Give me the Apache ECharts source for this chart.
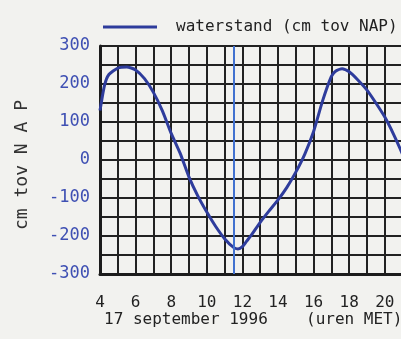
<!DOCTYPE html>
<html>
<head>
<meta charset="utf-8">
<script src="https://cdn.jsdelivr.net/npm/echarts@6/dist/echarts.min.js"></script>
<style>
  html, body { margin: 0; padding: 0; background: #f2f2ef; }
  #main { width: 401px; height: 339px; }
</style>
</head>
<body>
<div id="main"></div>
<script>
// uren (MET) op 17 september 1996
const hours = [4, 4.25, 4.5, 5, 5.5, 6, 6.5, 7, 7.5, 8, 8.5, 9, 9.5, 10, 10.5, 11, 11.5, 11.75, 12, 12.25, 12.5, 13, 13.5, 14, 14.5, 15, 15.5, 16, 16.5, 17, 17.25, 17.6, 18, 18.5, 19, 19.5, 20, 20.5, 21, 21.5, 22];
// waterstand in cm t.o.v. NAP
const waterstand = [130, 196, 225, 242, 245, 237, 214, 178, 130, 70, 18, -45, -95, -137, -175, -207, -230, -234, -228, -213, -198, -164, -134, -105, -72, -32, 15, 75, 155, 220, 234, 240, 232, 210, 184, 150, 113, 67, 15, -40, -95];
const markerHour = 11.5;
const yTicks = [-300, -200, -100, 0, 100, 200, 300];

const font = 'DejaVu Sans Mono';

const chart = echarts.init(document.getElementById('main'), null, { renderer: 'canvas' });

const option = {
  backgroundColor: '#f2f2ef',
  animation: false,
  legend: {
    left: 98,
    top: 14,
    icon: 'rect',
    itemWidth: 54,
    itemHeight: 3,
    itemGap: 0,
    textStyle: {
      fontFamily: font,
      fontSize: 16,
      color: '#222',
      padding: [0, 0, 0, 14]
    },
    data: ['waterstand (cm tov NAP)']
  },
  grid: {
    left: 100,
    top: 46,
    width: 320.4,
    height: 228,
    outerBoundsMode: 'none'
  },
  xAxis: {
    type: 'value',
    min: 4,
    max: 22,
    interval: 1,
    axisLine: { onZero: false, lineStyle: { color: '#1c1c1c', width: 3 } },
    axisTick: { show: false },
    splitLine: { show: true, lineStyle: { color: '#222', width: 2 } },
    axisLabel: {
      margin: 21,
      fontFamily: font,
      fontSize: 16,
      color: '#222',
      formatter: v => (v % 2 === 0 ? String(v) : '')
    }
  },
  yAxis: {
    type: 'value',
    min: -300,
    max: 300,
    interval: 50,
    axisLine: { show: true, lineStyle: { color: '#1c1c1c', width: 3 } },
    axisTick: { show: false },
    splitLine: { show: true, lineStyle: { color: '#222', width: 2 } },
    axisLabel: {
      margin: 10,
      fontFamily: font,
      fontSize: 17,
      color: '#3f50b3',
      formatter: v => (yTicks.includes(v) ? String(v) : '')
    }
  },
  graphic: [
    {
      type: 'text',
      x: 22,
      y: 165,
      rotation: Math.PI / 2,
      style: {
        text: 'cm tov N A P',
        fontFamily: font,
        fontSize: 18,
        fill: '#333',
        align: 'center',
        verticalAlign: 'middle'
      }
    },
    {
      type: 'text',
      left: 104,
      top: 312,
      style: {
        text: '17 september 1996',
        fontFamily: font,
        fontSize: 16,
        fill: '#222'
      }
    },
    {
      type: 'text',
      left: 306,
      top: 312,
      style: {
        text: '(uren MET)',
        fontFamily: font,
        fontSize: 16,
        fill: '#222'
      }
    }
  ],
  series: [
    {
      name: 'waterstand (cm tov NAP)',
      type: 'line',
      data: hours.map((h, i) => [h, waterstand[i]]),
      smooth: 0.2,
      showSymbol: false,
      lineStyle: { color: '#2e3c9c', width: 3 },
      itemStyle: { color: '#2e3c9c' },
      markLine: {
        silent: true,
        symbol: 'none',
        label: { show: false },
        lineStyle: { color: '#4272d0', width: 2, type: 'solid' },
        data: [{ xAxis: markerHour }]
      }
    }
  ]
};

chart.setOption(option);
</script>
</body>
</html>
